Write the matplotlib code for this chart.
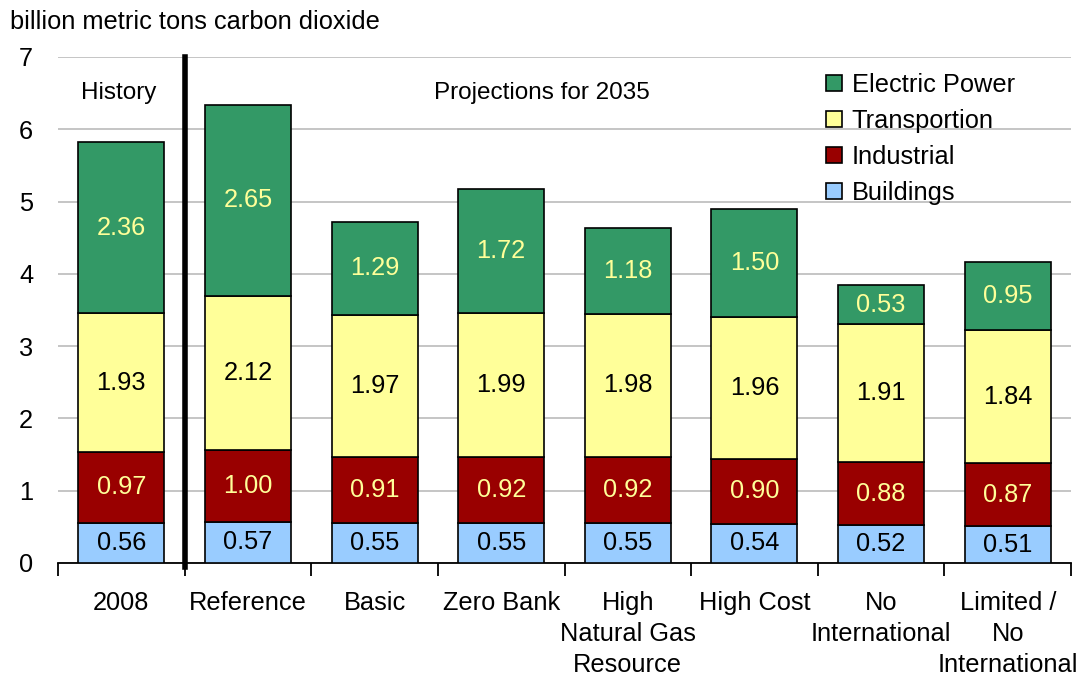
import matplotlib
matplotlib.use("Agg")
import matplotlib.pyplot as plt
import numpy as np

plt.rcParams['font.family'] = ['Liberation Sans', 'DejaVu Sans']

categories = ["2008", "Reference", "Basic", "Zero Bank", "High\nNatural Gas\nResource",
              "High Cost", "No\nInternational", "Limited /\nNo\nInternational"]
buildings = [0.56, 0.57, 0.55, 0.55, 0.55, 0.54, 0.52, 0.51]
industrial = [0.97, 1.00, 0.91, 0.92, 0.92, 0.90, 0.88, 0.87]
transportation = [1.93, 2.12, 1.97, 1.99, 1.98, 1.96, 1.91, 1.84]
electric = [2.36, 2.65, 1.29, 1.72, 1.18, 1.50, 0.53, 0.95]
series_names = ["Buildings", "Industrial", "Transportion", "Electric Power"]
yticks = [0, 1, 2, 3, 4, 5, 6, 7]

colors = ["#99CCFF", "#990000", "#FFFF99", "#339966"]
text_colors = ["black", "#FFFF99", "black", "#FFFF99"]

FS = 18.3

fig = plt.figure(figsize=(10.83, 6.77), dpi=100)
ax = fig.add_axes([58/1083, 1-563/677, (1071-58)/1083, (563-57)/677])

x = np.arange(len(categories))
bottom = np.zeros(len(categories))
handles = []
for vals, name, c, tc in zip([buildings, industrial, transportation, electric], series_names, colors, text_colors):
    vals = np.array(vals)
    b = ax.bar(x, vals, 0.68, bottom=bottom, color=c, edgecolor="black", linewidth=1.2, label=name, zorder=3)
    handles.append(b)
    for xi, v, bt in zip(x, vals, bottom):
        ax.text(xi, bt + v/2, f"{v:.2f}", ha="center", va="center", fontsize=FS, color=tc, zorder=4)
    bottom += vals

ax.set_xlim(-0.5, len(categories) - 0.5)
ax.set_ylim(0, 7)
ax.set_yticks(yticks)
ax.set_yticklabels([str(t) for t in yticks], fontsize=FS)
ax.tick_params(axis="y", length=0, pad=18)
ax.yaxis.grid(True, color="#BBBBBB", linewidth=1.2, zorder=0)
ax.set_axisbelow(True)

ax.set_xticks(x)
ax.set_xticklabels(categories, fontsize=FS, linespacing=1.37)
ax.tick_params(axis="x", which="major", length=0, pad=20)
ax.set_xticks(np.arange(-0.5, len(categories)), minor=True)
ax.tick_params(axis="x", which="minor", length=9, width=1.3, direction="out")

for s in ["left", "right", "top"]:
    ax.spines[s].set_visible(False)
ax.spines["bottom"].set_linewidth(1.3)

ax.plot([0.5, 0.5], [-0.06, 7], color="black", linewidth=4, zorder=5, clip_on=False)

ax.text(-0.02, 6.5, "History", ha="center", va="center", fontsize=17.5)
ax.text(3.32, 6.5, "Projections for 2035", ha="center", va="center", fontsize=17.5)

leg = ax.legend(handles[::-1], series_names[::-1], loc="upper left", bbox_to_anchor=(0.736, 1.013),
                frameon=False, fontsize=FS, handlelength=0.6, handleheight=0.6,
                handletextpad=0.4, labelspacing=0.47)

fig.text(10/1083, 1-22/677, "billion metric tons carbon dioxide", fontsize=FS, va="center", ha="left")

fig.savefig("out.png", dpi=100)
